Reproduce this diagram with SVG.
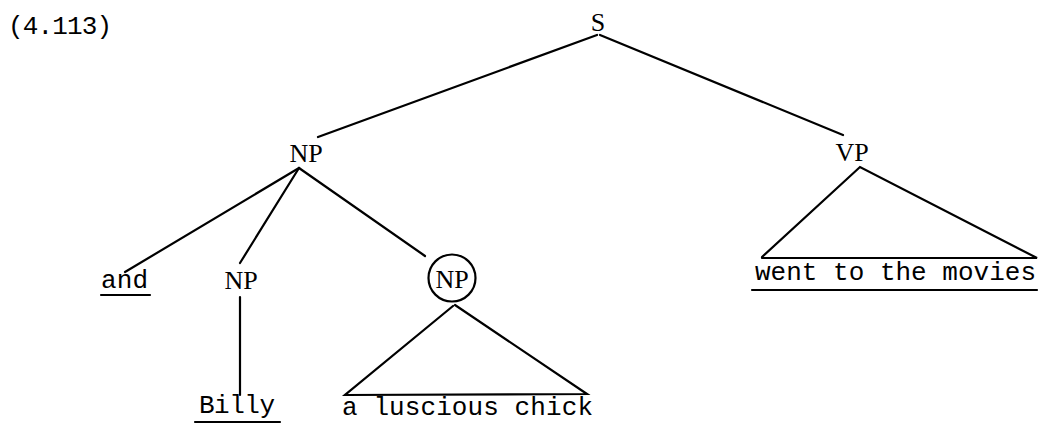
<svg xmlns="http://www.w3.org/2000/svg" width="1042" height="425" viewBox="0 0 1042 425">
<style>
.lbl{font-family:"Liberation Serif","Times New Roman",serif;font-size:26px;fill:#000;text-anchor:middle}
.wd{font-family:"Liberation Mono","Courier New",monospace;font-size:26px;fill:#000}
.ln{stroke:#000;stroke-width:2.2;fill:none;stroke-linecap:round}
</style>
<rect width="1042" height="425" fill="#fff"/>
<text class="wd" x="8" y="34" textLength="104" lengthAdjust="spacing">(4.113)</text>
<g id="S"><text class="lbl" x="598" y="31">S</text></g>
<g id="NP1"><text class="lbl" x="306" y="162">NP</text></g>
<g id="VP"><text class="lbl" x="852" y="161">VP</text></g>
<g id="and"><text class="wd" x="101" y="288" textLength="47" lengthAdjust="spacing">and</text><line class="ln" x1="101" y1="295" x2="150" y2="295"/></g>
<g id="NP2"><text class="lbl" x="241" y="289">NP</text></g>
<g id="NP3"><circle class="ln" cx="452" cy="278" r="23.5"/><text class="lbl" x="452" y="288">NP</text></g>
<g id="went"><text class="wd" x="755" y="280" textLength="281" lengthAdjust="spacing">went to the movies</text><line class="ln" x1="752" y1="290" x2="1037" y2="290"/></g>
<g id="Billy"><text class="wd" x="199" y="413" textLength="76" lengthAdjust="spacing">Billy</text><line class="ln" x1="195" y1="422" x2="280" y2="422"/></g>
<g id="chick"><text class="wd" x="342" y="415" textLength="251" lengthAdjust="spacing">a luscious chick</text></g>
<g id="connectors">
<line class="ln" x1="597" y1="35" x2="318" y2="137"/>
<line class="ln" x1="600" y1="35" x2="843" y2="135"/>
<line class="ln" x1="299" y1="168" x2="125" y2="272"/>
<line class="ln" x1="299" y1="168" x2="240" y2="263"/>
<line class="ln" x1="299" y1="168" x2="425" y2="256"/>
<line class="ln" x1="240" y1="297" x2="240" y2="395"/>
<polyline class="ln" points="762,257 860,167 1037,258 762,258"/>
<polyline class="ln" points="453,306 345,395 587,394 455,305"/>
</g>
</svg>
